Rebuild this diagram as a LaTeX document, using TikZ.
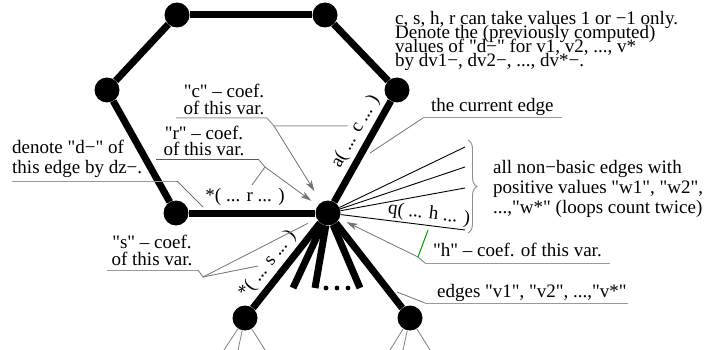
\documentclass[tikz,border=0pt]{standalone}
\usepackage{fontspec}
\setmainfont{Liberation Serif}[Ligatures=TeXOff]
\usepackage{tikz}
\usetikzlibrary{arrows.meta,positioning,calc,decorations.pathreplacing}

\begin{document}
\begin{tikzpicture}[x=1pt, y=-1pt,
  font=\fontsize{19}{20}\selectfont,
  vertice/.style={circle, fill=black, inner sep=0pt, minimum size=25pt},
  arista/.style={line width=7pt},
  rayo/.style={line width=0.9pt},
  rama/.style={line width=0.8pt, draw=black!50},
  guia/.style={line width=0.8pt, draw=black!55},
  flecha/.style={guia, -{Stealth[length=11pt, width=6.5pt, inset=3pt]}},
  subrayado/.style={line width=1pt, draw=black!40},
  verde/.style={line width=1pt, draw=green!60!black},
  nota/.style={inner sep=0pt, execute at begin node={\lineskiplimit=-50pt}},
  etiqueta/.style={sloped, above, inner sep=3.5pt},
]
  \useasboundingbox (0,0) rectangle (723,350);

  % hexagon and the current vertex
  \node[vertice] (tl) at (177,15)  {};
  \node[vertice] (tr) at (325,15)  {};
  \node[vertice] (r)  at (397,90)  {};
  \node[vertice] (c)  at (328,213) {};
  \node[vertice] (bl) at (176,213) {};
  \node[vertice] (l)  at (107,90)  {};
  \node[vertice] (hl) at (245,318) {};
  \node[vertice] (hr) at (410,318) {};

  \draw[arista] (tl) -- (tr);
  \draw[arista] (tr) -- (r);
  \draw[arista] (c) -- node[etiqueta, pos=0.62] {a( ... c ... )} (r);
  \draw[arista] (bl) -- node[etiqueta, pos=0.445] {*( ... r ... )} (c);
  \draw[arista] (bl) -- (l);
  \draw[arista] (l) -- (tl);
  \draw[arista] (hl) -- node[etiqueta, pos=0.40] {*( ... s ... )} (c);
  \draw[arista] (c) -- (hr);

  % stubs of the other basic edges
  \coordinate (s1) at (293,288);
  \coordinate (s2) at (315,288);
  \coordinate (s3) at (360,288);
  \foreach \s in {s1,s2,s3}
    \draw[arista] (c) -- (\s);
  \foreach \x in {326,337,348}
    \fill (\x,288) circle (2.4);

  \foreach \d in {(-21,32),(-7,32),(20,32)}
    \draw[rama] (hl) -- ++\d;
  \foreach \d in {(-20,32),(-7,32),(20,32)}
    \draw[rama] (hr) -- ++\d;

  % non-basic edges
  \coordinate (w1) at (465,147);
  \coordinate (w2) at (465,167);
  \coordinate (w3) at (465,188);
  \coordinate (wq) at (465,230);
  \foreach \w in {w1,w2,w3}
    \draw[rayo] (c) -- (\w);
  \draw[rayo] (c) -- node[etiqueta, pos=0.70, inner sep=2pt] {q( ... h ... )} (wq);
  \draw[decorate, decoration={brace, amplitude=9pt}, draw=black!45, line width=0.9pt]
    ($(w1)+(3,-7)$) -- ($(wq)+(3,3)$);

  % texts (base = baseline of the last line)
  \node[nota, anchor=base west, align=left, font=\fontsize{19}{14}\selectfont] (reglas) at (395,67)
    {c, s, h, r can take values 1 or −1 only.\\
     Denote the (previously computed)\\
     values of "d−" for v1, v2, ..., v*\\
     by dv1−, dv2−, ..., dv*−.};
  \node[nota, anchor=base west] (actual) at (431,112) {the current edge};
  \node[nota, anchor=base west, align=left] (nobasicas) at (493,213)
    {all non−basic edges with\\
     positive values "w1", "w2",\\
     ...,"w*" (loops count twice)};
  \node[nota, anchor=base west] (coefh) at (433,256) {"h" – coef. of this var.};
  \node[nota, anchor=base west] (aristasv) at (437,297) {edges "v1", "v2", ...,"v*"};
  \node[nota, anchor=base, align=center, font=\fontsize{19}{17}\selectfont] (coefc) at (224,115)
    {"c" – coef.\\ of this var.};
  \node[nota, anchor=base, align=center, font=\fontsize{19}{17}\selectfont] (coefr) at (204,156)
    {"r" – coef.\\ of this var.};
  \node[nota, anchor=base west, align=left] (denota) at (12,173)
    {denote "d−" of\\ this edge by dz−.};
  \node[nota, anchor=base, align=center, font=\fontsize{19}{17}\selectfont] (coefs) at (152,265)
    {"s" – coef.\\ of this var.};

  % leaders
  \coordinate (cj) at (274,126);
  \coordinate (cc) at (348,126);
  \draw[subrayado] (176,118) -- (267,118) -- (cj) -- (cc);
  \draw[flecha, shorten >=13pt] (cj) -- (c);

  \coordinate (rj) at (265,167);
  \coordinate (rr) at (252,185);
  \draw[verde] (156,160) -- (259,160);
  \draw[guia] (259,160) -- (rj) -- (rr);
  \draw[flecha, shorten >=8pt] (rj) -- (c);

  \coordinate (dz) at (203,207);
  \draw[subrayado] (12,181) -- (177,181);
  \draw[guia] (177,181) -- (dz);

  \coordinate (sj) at (203,277);
  \coordinate (ss) at (258,266);
  \draw[subrayado] (107,270) -- (198,270);
  \draw[guia] (198,270) -- (sj) -- (ss);
  \draw[guia, shorten >=10pt] (sj) -- (c);

  \coordinate (aj) at (423,118);
  \coordinate (ae) at (370,153);
  \draw[subrayado] (562,118) -- (aj);
  \draw[guia] (aj) -- (ae);

  \coordinate (hj) at (418,257);
  \coordinate (hh) at (428,230);
  \draw[subrayado] (610,263) -- (425,263);
  \draw[guia] (425,263) -- (hj);
  \draw[verde] (hj) -- (hh);
  \draw[flecha, shorten >=8pt] (hj) -- (c);

  \coordinate (vj) at (425,303);
  \coordinate (ve) at (397,292);
  \draw[subrayado] (628,303) -- (vj);
  \draw[guia] (vj) -- (ve);
\end{tikzpicture}
\end{document}
